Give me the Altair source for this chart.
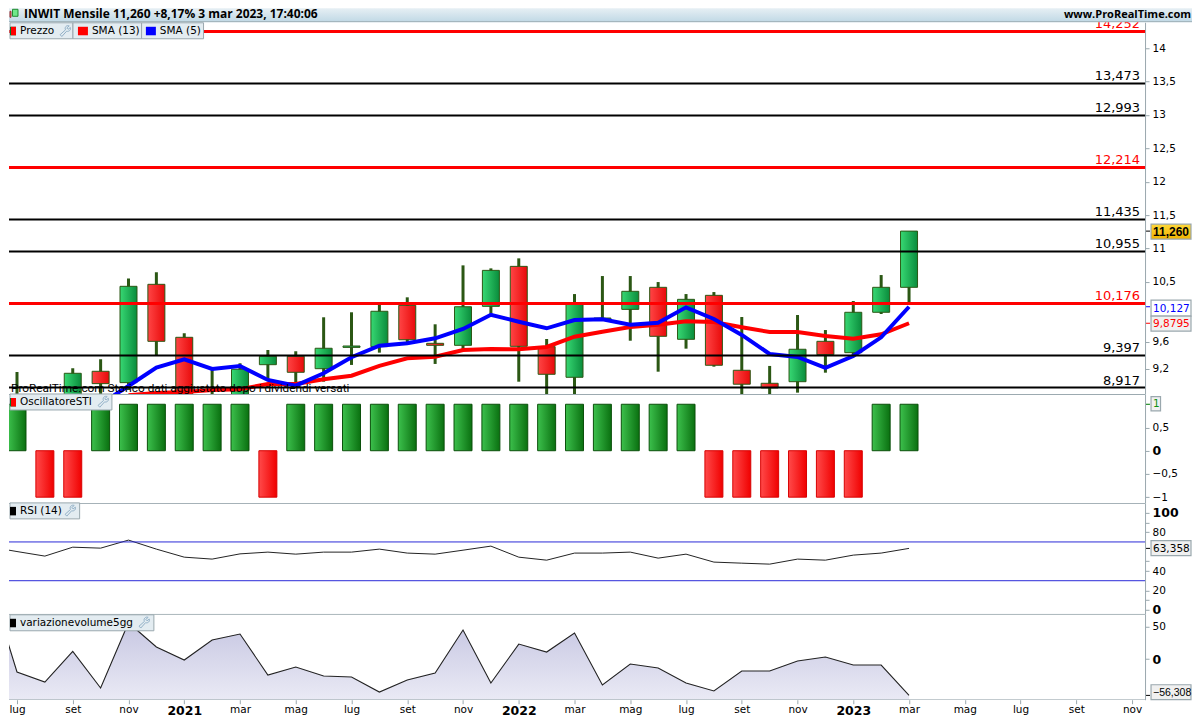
import altair as alt
import pandas as pd
import json

# ---------------- data ----------------
months = ["2020-06","2020-07","2020-08","2020-09","2020-10","2020-11","2020-12",
          "2021-01","2021-02","2021-03","2021-04","2021-05","2021-06","2021-07","2021-08","2021-09","2021-10","2021-11","2021-12",
          "2022-01","2022-02","2022-03","2022-04","2022-05","2022-06","2022-07","2022-08","2022-09","2022-10","2022-11","2022-12",
          "2023-01","2023-02","2023-03","2023-04","2023-05","2023-06","2023-07","2023-08","2023-09","2023-10","2023-11"]
tick_months = ["2020-07","2020-09","2020-11","2021-01","2021-03","2021-05","2021-07","2021-09","2021-11",
               "2022-01","2022-03","2022-05","2022-07","2022-09","2022-11","2023-01","2023-03","2023-05","2023-07","2023-09","2023-11"]
tick_names = ["lug","set","nov","2021","mar","mag","lug","set","nov","2022","mar","mag","lug","set","nov","2023","mar","mag","lug","set","nov"]

opens  = [8.60,8.72,8.75,9.160,8.990,10.463,9.669,8.72,8.75,9.259,9.385,9.199,9.518,9.529,10.148,9.579,9.549,10.133,10.732,9.529,9.070,9.943,10.088,10.418,9.639,10.298,9.175,8.980,9.004,9.609,9.439,10.044,10.418]
closes = [8.73,8.60,9.130,8.975,10.433,9.609,8.70,8.80,9.190,9.385,9.145,9.505,9.539,10.059,9.633,9.549,10.127,10.672,9.534,9.115,10.178,9.958,10.358,9.684,10.238,9.250,8.966,8.910,9.490,9.409,10.044,10.418,11.26]
highs  = [9.150,8.78,9.205,9.340,10.552,10.642,9.729,9.180,9.280,9.479,9.460,9.969,10.044,10.153,10.268,9.864,10.747,10.702,10.852,9.644,10.317,10.587,10.587,10.497,10.317,10.347,9.973,9.240,10.003,9.778,10.213,10.602,11.26]
lows   = [8.55,8.50,8.70,8.80,8.88,9.404,8.60,8.60,8.70,9.030,8.910,9.004,9.255,9.439,9.584,9.270,9.490,9.988,9.004,8.75,8.75,9.928,9.618,9.154,9.499,9.229,8.75,8.75,8.840,9.139,9.404,10.018,10.183]
sma5   = [None,None,None,8.670,8.940,9.214,9.340,9.195,9.240,9.030,8.945,9.130,9.370,9.543,9.579,9.654,9.794,10.007,9.903,9.804,9.928,9.939,9.858,9.888,10.118,9.943,9.704,9.419,9.374,9.210,9.389,9.669,10.127]
sma13  = [None,None,None,None,8.80,8.835,8.850,8.880,8.891,8.970,8.970,9.040,9.094,9.240,9.355,9.379,9.479,9.494,9.490,9.524,9.678,9.753,9.823,9.858,9.909,9.898,9.819,9.749,9.749,9.689,9.648,9.714,9.8795]
osc    = [1,-1,-1,1,1,1,1,1,1,-1,1,1,1,1,1,1,1,1,1,1,1,1,1,1,1,-1,-1,-1,-1,-1,-1,1,1]
rsi    = [65.0,60.1,55.4,64.6,63.6,71.9,62.6,54.3,52.3,57.7,59.5,57.4,59.5,59.5,62.6,58.5,57.4,61.5,65.7,54.3,51.2,58.5,58.5,59.5,53.3,57.4,49.2,48.1,47.1,52.3,51.2,56.4,58.5,63.358]
vol    = [119.7,-20.1,-35.6,11.8,-44.9,56.2,18.6,-1.5,29.4,38.7,-24.8,-12.4,-26.3,-27.9,-51.1,-32.5,-21.7,44.9,-37.2,23.2,10.8,40.2,-40.2,-7.7,-13.9,-37.2,-49.5,-18.6,-18.6,-3.1,3.1,-9.3,-9.3,-56.308]
black_levels = [13.473,12.993,11.435,10.955,9.397,8.917]
red_levels = [14.252,12.214,10.176]
rsi_levels = [70,30]
price_ticks = [14,13.5,13,12.5,12,11.5,11,10.5,9.6,9.2]
osc_ticks = [1,0.5,0,-0.5,-1]
rsi_ticks = [100,90,80,50,40,20,10,0]
rsi_labelled = [100,80,40,20,0]
vol_ticks = [50,0]

# ---------------- layout ----------------
FONT = "DejaVu Sans"
GRAY = "#9aa8ae"
W = 1184
PLOT_R = 1137
X_OFF = W - PLOT_R
X0 = 8
STEP = 27.9
xscale = alt.Scale(type="point", domain=months, padding=0,
                   range=[X0 - STEP, X0 + STEP * (len(months) - 2)])

price_df = pd.DataFrame({"m": months[1:34], "open": opens, "close": closes, "high": highs, "low": lows,
                         "sma5": sma5, "sma13": sma13, "osc": osc})
price_df["top"] = price_df[["open", "close"]].max(axis=1)
price_df["bot"] = price_df[["open", "close"]].min(axis=1)
up = price_df[price_df.close >= price_df.open]
down = price_df[price_df.close < price_df.open]
ind_df = pd.DataFrame({"m": months[:34], "rsi": rsi, "vol": vol})
one = pd.DataFrame({"a": [0]})


def hgrad(a, b):
    return alt.LinearGradient(gradient="linear", x1=0, x2=1, y1=0, y2=0,
                              stops=[alt.GradientStop(color=a, offset=0), alt.GradientStop(color=b, offset=1)])


def vgrad(a, b):
    return alt.LinearGradient(gradient="linear", x1=0, x2=0, y1=0, y2=1,
                              stops=[alt.GradientStop(color=a, offset=0), alt.GradientStop(color=b, offset=1)])


def xnone():
    return alt.X("m:N", scale=xscale, axis=None)


def box(x1, x2, y1, y2, fill, stroke=None, sw=1):
    kw = {"fill": fill}
    if stroke:
        kw.update(stroke=stroke, strokeWidth=sw)
    return alt.Chart(one).mark_rect(**kw).encode(x=alt.value(x1), x2=alt.value(x2), y=alt.value(y1), y2=alt.value(y2))


def txt(s, x, y, color="black", size=10.5, weight="normal", align="left", font=FONT, baseline="middle"):
    return alt.Chart(one).mark_text(text=s, color=color, fontSize=size, fontWeight=weight, align=align,
                                    baseline=baseline, font=font).encode(x=alt.value(x), y=alt.value(y))


WRENCH = "M0.75,-0.95 A0.5,0.5 0 0 0 0.1,-0.25 L-0.85,0.6 L-0.55,0.92 L0.3,-0.02 A0.5,0.5 0 0 0 0.95,-0.65 L0.55,-0.35 L0.32,-0.58 Z"


def wrench(x, y):
    return alt.Chart(one).mark_point(shape=WRENCH, size=130, filled=False, stroke="#6f97b5", strokeWidth=1).encode(
        x=alt.value(x), y=alt.value(y))


def chip(top, right, label, color, wr=None):
    """Legend tab; x are chart coordinates, top is the panel's own y."""
    parts = [box(1, right, top, top + 16, "#e3ecf1", GRAY),
             box(1, 7, top + 4, top + 12.5, color),
             txt(label, 11, top + 8.5)]
    if wr:
        parts.append(wrench(wr, top + 8))
    return parts


def frame():
    return [alt.Chart(one).mark_rule(color=GRAY, strokeWidth=1, clip=True).encode(
        x=alt.value(0), x2=alt.value(PLOT_R), y=alt.value(0.5))]


def vbox(x1, x2, y1, y2, label, color, fill="#f0f0f0", weight="normal", size=10.5, font=FONT):
    return [box(x1, x2, y1, y2, fill, GRAY, 1.2),
            txt(label, x1 + 2, (y1 + y2) / 2 + 0.5, color=color, weight=weight, size=size, font=font)]


def value_tick(panel_scale, axis, field_value, color):
    return alt.Chart(pd.DataFrame({"v": [field_value]})).mark_rule(color=color, strokeWidth=1).encode(
        x=alt.value(PLOT_R + 1), x2=alt.value(PLOT_R + 5), y=alt.Y("v:Q", scale=panel_scale, axis=axis))


def yaxis(values, expr, bold_test="datum.value == 0"):
    return alt.Axis(orient="right", offset=-X_OFF, values=values, labelExpr=expr, grid=False, title=None,
                    domainColor=GRAY, tickColor=GRAY, tickSize=4, labelPadding=3, labelAlign="left",
                    labelFont=FONT, labelColor="black", labelOverlap=False, labelFlush=False,
                    labelFontSize={"condition": {"test": bold_test, "value": 12.5}, "value": 10.5},
                    labelFontWeight={"condition": {"test": bold_test, "value": "bold"}, "value": "normal"})


COMMA = "replace(replace(toString(datum.value),'.',','),'-','\u2212')"

# ---------------- header ----------------
header = alt.layer(
    box(0, W, 0, 14, vgrad("#e6eff4", "#bfd8e5")),
    alt.Chart(one).mark_rule(color=GRAY, clip=True).encode(x=alt.value(0), x2=alt.value(W), y=alt.value(13.5)),
    box(1, 2, 3, 9, "#f08080", "#a03030"),
    box(3.5, 9, 1, 8, "#6fe88a", "#208a30"),
    txt("INWIT  Mensile 11,260 +8,17% 3 mar 2023, 17:40:06", 15, 10, size=12, weight="bold", font="Open Sans", baseline="alphabetic"),
    txt("www.ProRealTime.com", W - 1, 10, size=11, weight="bold", align="right", font="Open Sans", baseline="alphabetic"),
).properties(width=W, height=14)

# ---------------- price ----------------
P_TOP = 22
py = alt.Scale(domain=[8.820, 14.389], nice=False, zero=False)
pax = yaxis(price_ticks, COMMA, "false")
W_COL = "#2b5714"


def candles(df, grad):
    base = alt.Chart(df)
    return [
        base.mark_rule(color=W_COL, strokeWidth=3, clip=True).encode(
            x=xnone(), y=alt.Y("high:Q", scale=py, axis=pax), y2="low:Q"),
        base.mark_bar(size=17, fill=grad, stroke=W_COL, strokeWidth=1, clip=True).encode(
            x=xnone(), y=alt.Y("top:Q", scale=py, axis=pax), y2="bot:Q"),
    ]


levels_b = alt.Chart(pd.DataFrame({"v": black_levels})).mark_rule(color="black", strokeWidth=2, clip=True).encode(
    x=alt.value(0), x2=alt.value(PLOT_R), y=alt.Y("v:Q", scale=py, axis=pax))
levels_r = alt.Chart(pd.DataFrame({"v": red_levels})).mark_rule(color="#ff0000", strokeWidth=3, clip=True).encode(
    x=alt.value(0), x2=alt.value(PLOT_R), y=alt.Y("v:Q", scale=py, axis=pax))


def level_text(vals, color):
    d = pd.DataFrame({"v": vals, "t": [f"{v:.3f}".replace(".", ",") for v in vals]})
    return alt.Chart(d).mark_text(align="right", baseline="alphabetic", dy=-3, font=FONT, fontSize=13, color=color,
                                  clip=True).encode(
        x=alt.value(PLOT_R - 5), y=alt.Y("v:Q", scale=py, axis=pax), text="t:N")


def sma(col, color):
    return alt.Chart(price_df.dropna(subset=[col])).mark_line(color=color, strokeWidth=4, clip=True).encode(
        x=xnone(), y=alt.Y(f"{col}:Q", scale=py, axis=pax))


price_layers = (candles(up, hgrad("#37d873", "#0a8c3c")) + candles(down, hgrad("#ff4545", "#e80a0a")) +
                [sma("sma13", "#ff0000"), sma("sma5", "#0000ff"), levels_b, levels_r,
                 level_text(black_levels, "black"), level_text(red_levels, "#ff0000"),
                 txt("ProRealTime.com Storico dati aggiustato dopo i dividendi versati", 2, 387.8 - P_TOP, size=11.8, font="Roboto"),
                 value_tick(py, pax, 11.26, "black"), value_tick(py, pax, 10.127, "#0000ff"), value_tick(py, pax, 9.8795, "#ff0000")] +
                chip(22.5 - P_TOP, 64, "Prezzo", "#007a2c") +
                [box(2, 7, 26.5 - P_TOP, 35 - P_TOP, "#ff0000"), wrench(56, 31 - P_TOP)] +
                [box(64, 132.7, 22.5 - P_TOP, 38.5 - P_TOP, "#e3ecf1", GRAY), box(69, 79, 26.5 - P_TOP, 35 - P_TOP, "#ff0000"),
                 txt("SMA (13)", 83, 31 - P_TOP),
                 box(132.7, 194.7, 22.5 - P_TOP, 38.5 - P_TOP, "#e3ecf1", GRAY), box(137, 147, 26.5 - P_TOP, 35 - P_TOP, "#0000ff"),
                 txt("SMA (5)", 151, 31 - P_TOP)] +
                vbox(1143, 1183, 224 - P_TOP, 239 - P_TOP, "11,260", "black", vgrad("#ffd83a", "#f0b400"), "bold", 12, "Liberation Sans") +
                vbox(1143, 1183, 300 - P_TOP, 316 - P_TOP, "10,127", "#0000ff", "white") +
                vbox(1143, 1183, 316 - P_TOP, 331 - P_TOP, "9,8795", "#ff0000"))
price = alt.layer(*price_layers).properties(width=W, height=372)

# ---------------- oscillator ----------------
oy = alt.Scale(domain=[-1.1226, 1.2215], nice=False, zero=False)
oax = yaxis(osc_ticks, COMMA)
osc_up = alt.Chart(price_df[price_df.osc > 0]).mark_bar(size=18, fill=hgrad("#3cc04c", "#0a7010"), stroke="#0a4f0a", strokeWidth=1, clip=True).encode(
    x=xnone(), y=alt.Y("osc:Q", scale=oy, axis=oax), y2=alt.datum(0))
osc_dn = alt.Chart(price_df[price_df.osc < 0]).mark_bar(size=18, fill=hgrad("#ff4a4a", "#f00000"), stroke="#d80000", strokeWidth=1, clip=True).encode(
    x=xnone(), y=alt.Y("osc:Q", scale=oy, axis=oax), y2=alt.datum(0))
O_TOP = 394
osc_panel = alt.layer(
    osc_up, osc_dn, *frame(),
    value_tick(oy, oax, 1, "#109010"),
    *chip(0, 103, "OscillatoreSTI", "#007a2c", 94),
    box(2, 7, 4, 12.5, "#ff0000"),
    *vbox(1143, 1152.5, 396.7 - O_TOP, 411 - O_TOP, "1", "#109010"),
).properties(width=W, height=109)

# ---------------- RSI ----------------
ry = alt.Scale(domain=[-4.124, 110.3], nice=False, zero=False)
rsi_expr = "indexof(" + json.dumps(rsi_labelled) + ",datum.value)>=0 ? toString(datum.value) : ''"
rax = yaxis(rsi_ticks, rsi_expr, "datum.value == 0 || datum.value == 100")
rsi_line = alt.Chart(ind_df).mark_line(color="#222222", strokeWidth=1, clip=True).encode(
    x=xnone(), y=alt.Y("rsi:Q", scale=ry, axis=rax))
rsi_rules = alt.Chart(pd.DataFrame({"v": rsi_levels})).mark_rule(color="#2a2ad8", strokeWidth=1, clip=True).encode(
    x=alt.value(0), x2=alt.value(PLOT_R), y=alt.Y("v:Q", scale=ry, axis=rax))
R_TOP = 503
rsi_panel = alt.layer(
    rsi_line, rsi_rules, *frame(),
    value_tick(ry, rax, 63.358, "black"),
    *chip(0, 70.7, "RSI (14)", "black", 61),
    *vbox(1143, 1183, 540.7 - R_TOP, 555.7 - R_TOP, "63,358", "black"),
).properties(width=W, height=111)

# ---------------- volume ----------------
vy = alt.Scale(domain=[-63.0, 70.1], nice=False, zero=False)
vax = yaxis(vol_ticks, COMMA)
x_axis = alt.Axis(values=tick_months, grid=False, title=None, domain=False, tickColor=GRAY, tickSize=4, labelPadding=1,
                  labelFont=FONT, labelColor="black", labelOverlap=False, labelAngle=0, labelFlush=False,
                  labelExpr=json.dumps(dict(zip(tick_months, tick_names))) + "[datum.value]",
                  labelFontSize={"condition": {"test": "test(/-01$/, datum.value)", "value": 12.5}, "value": 10.5},
                  labelFontWeight={"condition": {"test": "test(/-01$/, datum.value)", "value": "bold"}, "value": "normal"})
vol_area = alt.Chart(ind_df).mark_area(fill=vgrad("#b4b4d8", "#eaeaf5"), clip=True, line=False).encode(
    x=alt.X("m:N", scale=xscale, axis=x_axis),
    y=alt.Y("vol:Q", scale=vy, axis=vax), y2=alt.datum(-63.0))
vol_line = alt.Chart(ind_df).mark_line(color="#222222", strokeWidth=1.1, clip=True).encode(
    x=alt.X("m:N", scale=xscale, axis=x_axis), y=alt.Y("vol:Q", scale=vy, axis=vax))
V_TOP = 614
bottom_rule = alt.Chart(one).mark_rule(color=GRAY, clip=True).encode(x=alt.value(0), x2=alt.value(PLOT_R), y=alt.value(86))
vol_panel = alt.layer(
    vol_area, vol_line, *frame(), bottom_rule,
    value_tick(vy, vax, -56.308, "black"),
    *chip(1, 145, "variazionevolume5gg", "black", 135),
    *vbox(1143, 1183, 685 - V_TOP, 700 - V_TOP, "\u221256,308", "black", size=10.5, font="Liberation Sans"),
).properties(width=W, height=86)

chart = alt.vconcat(header, price, osc_panel, rsi_panel, vol_panel, spacing=0, bounds="flush").properties(
    padding=0
).configure_view(stroke=None)

chart.save("out.html", embed_options={"renderer": "svg", "actions": False})
